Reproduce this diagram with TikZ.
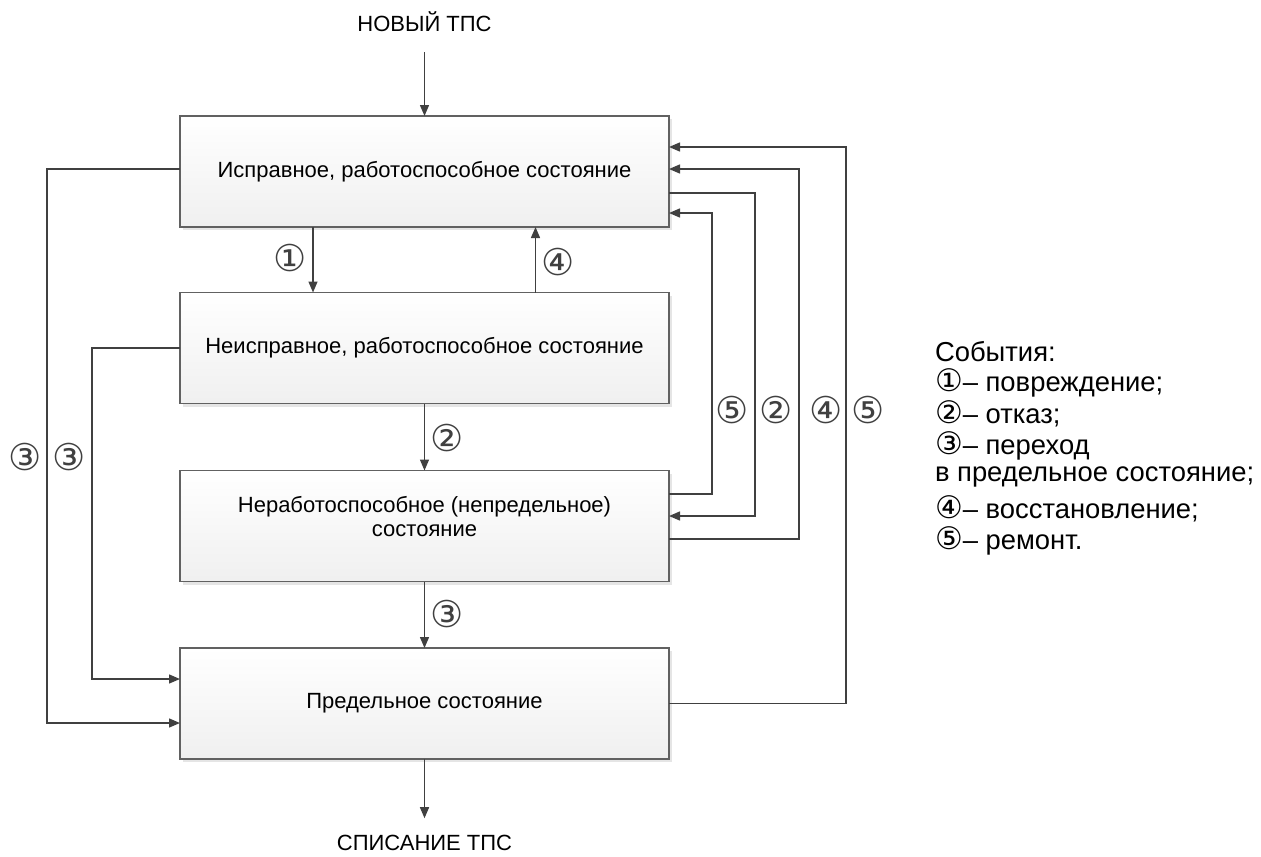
\documentclass[tikz,border=0pt]{standalone}
\usepackage{fontspec}
\setmainfont{Liberation Sans}
\newfontfamily\circfont{DejaVu Sans}
\usetikzlibrary{arrows.meta,shadows}

\begin{document}
\begin{tikzpicture}
[x=0.5pt,y=-0.5pt,
 every node/.style={inner sep=0pt,outer sep=0pt,font=\fontsize{11}{12}\selectfont},
 state/.style={rectangle,draw=black!62,line width=0.65pt,top color=white,bottom color=black!6,
   minimum width=244.5pt,minimum height=55.5pt,align=center,
   drop shadow={shadow xshift=1.5pt,shadow yshift=-1.5pt,fill=black!10,opacity=1}},
 num/.style={font=\circfont\fontsize{18.5}{20}\selectfont,text=black!75},
 legend/.style={anchor=west,font=\fontsize{13.7}{15}\selectfont},
 arr/.style={-{Triangle[length=5.5pt,width=4.5pt]},draw=black!75,line width=0.7pt}]
\useasboundingbox (0,0) rectangle (1261,856);

\node (new) at (424.5,22)  {НОВЫЙ ТПС};
\node[state] (b1) at (424.5,171.5) {Исправное, работоспособное состояние};
\node[state] (b2) at (424.5,348)   {Неисправное, работоспособное состояние};
\node[state] (b3) at (424.5,526)   {Неработоспособное (непредельное)\\состояние\\[-2pt]};
\node[state] (b4) at (424.5,703.5) {Предельное состояние};
\node (out) at (424.5,843) {СПИСАНИЕ ТПС};

% main chain
\draw[arr] ([yshift=-10pt]new.south) -- (b1);
\draw[arr] ([xshift=-55.75pt]b1.south) -- ([xshift=-55.75pt]b2.north);
\draw[arr] ([xshift=55.5pt]b2.north) -- ([xshift=55.5pt]b1.south);
\draw[arr] (b2) -- (b3);
\draw[arr] (b3) -- (b4);
\draw[arr] (b4) -- ([yshift=8.5pt]out.north);

% left loops
\draw[arr] ([yshift=1.25pt]b1.west) -- ++(-133,0) |- ([yshift=-9.75pt]b4.west);
\draw[arr] (b2.west) -- ++(-88,0) |- ([yshift=12.25pt]b4.west);

% right loops
\draw[arr] ([yshift=16pt]b3.east) -- ++(43,0) |- ([yshift=-20.75pt]b1.east);
\draw[arr] ([yshift=-10.75pt]b1.east) -- ++(86,0) |- ([yshift=5pt]b3.east);
\draw[arr] ([yshift=-6.5pt]b3.east) -- ++(130,0) |- ([yshift=1.25pt]b1.east);
\draw[arr] (b4.east) -- ++(177,0) |- ([yshift=12.25pt]b1.east);

% event numbers
\node[num] (n1)  at (290,258) {①};
\node[num] (n4)  at (558,262) {④};
\node[num] (n2)  at (447,438) {②};
\node[num] (n3)  at (447,614) {③};
\node[num] (n3a) at (25,457)  {③};
\node[num] (n3b) at (69,457)  {③};
\node[num] (n5a) at (732,410) {⑤};
\node[num] (n2a) at (776,410) {②};
\node[num] (n4a) at (826,410) {④};
\node[num] (n5b) at (868,410) {⑤};

% legend
\node[legend] (ev)  at (935,352) {События:};
\node[legend] (ev1) at (935,383) {{\circfont\fontsize{15.5}{15}\selectfont ①}– повреждение;};
\node[legend] (ev2) at (935,414) {{\circfont\fontsize{15.5}{15}\selectfont ②}– отказ;};
\node[legend] (ev3) at (935,446) {{\circfont\fontsize{15.5}{15}\selectfont ③}– переход};
\node[legend] (ev3b) at (935,477) {в предельное состояние;};
\node[legend] (ev4) at (935,509) {{\circfont\fontsize{15.5}{15}\selectfont ④}– восстановление;};
\node[legend] (ev5) at (935,541) {{\circfont\fontsize{15.5}{15}\selectfont ⑤}– ремонт.};
\end{tikzpicture}
\end{document}
